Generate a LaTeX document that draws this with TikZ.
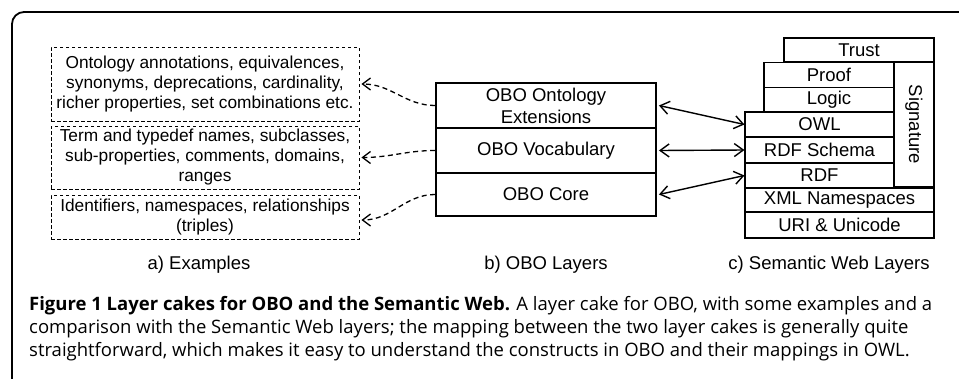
\documentclass[tikz,border=0pt]{standalone}
\usepackage{fontspec}
\setmainfont{Liberation Sans}
\newfontfamily\capfont{Open Sans}
\usetikzlibrary{arrows.meta}
\tikzset{
  ex/.style={draw, dashed, dash pattern=on 3.5pt off 2.5pt, line width=0.9pt, minimum width=308pt, inner sep=0pt, align=center, font=\fontsize{17.3}{20}\selectfont},
  obo/.style={draw, line width=1.9pt, minimum width=220pt, inner sep=0pt, align=center, font=\fontsize{18.5}{22}\selectfont},
  sw/.style={draw, line width=1.1pt, inner sep=0pt, align=center, font=\fontsize{18.5}{19}\selectfont},
  lab/.style={font=\fontsize{18.5}{19}\selectfont},
  dconn/.style={dashed, dash pattern=on 5pt off 3.5pt, line width=1.3pt, -{Straight Barb[length=8pt,width=12pt,line width=1.3pt]}},
  bconn/.style={line width=1.4pt, {Straight Barb[length=9pt,width=13pt]}-{Straight Barb[length=9pt,width=13pt]}},
  captxt/.style={anchor=base west, inner sep=0pt, font=\capfont\fontsize{18.5}{20}\selectfont}
}
\begin{document}
\begin{tikzpicture}[x=1pt,y=-1pt]
\useasboundingbox (0,0) rectangle (959,378);
\begin{scope}
\clip (0,0) rectangle (959,378);
\draw[line width=1.8pt, rounded corners=12pt] (12,420) -- (12,12) -- (1000,12);
\end{scope}
% examples
\node[ex, minimum height=74pt] (e1) at (205,84) {Ontology annotations, equivalences,\\synonyms, deprecations, cardinality,\\richer properties, set combinations etc.};
\node[ex, minimum height=63pt] (e2) at (205,157.5) {Term and typedef names, subclasses,\\sub-properties, comments, domains,\\ranges};
\node[ex, minimum height=44pt] (e3) at (205,217) {Identifiers, namespaces, relationships\\(triples)};
% OBO layers
\node[obo, minimum height=45pt] (o1) at (546,105.5) {OBO Ontology\\Extensions};
\node[obo, minimum height=45pt] (o2) at (546,150.5) {OBO Vocabulary};
\node[obo, minimum height=43pt] (o3) at (546,194.5) {OBO Core};
% semantic web layers
\node[sw, minimum width=150pt, minimum height=24pt] (trust) at (859,50) {Trust};
\node[sw, minimum width=130pt, minimum height=25pt] (proof) at (829,75) {Proof};
\node[sw, minimum width=130pt, minimum height=25pt] (logic) at (829,100) {Logic};
\node[sw, minimum width=149pt, minimum height=25pt] (owl) at (819.5,124.5) {OWL};
\node[sw, minimum width=149pt, minimum height=26pt] (rdfs) at (819.5,150) {RDF Schema};
\node[sw, minimum width=149pt, minimum height=25pt] (rdf) at (819.5,175.5) {RDF};
\node[sw, minimum width=40pt, minimum height=125pt] (sig) at (914,124.5) {};
\node[rotate=-90, lab] at (sig.center) {Signature};
\node[sw, minimum width=189pt, minimum height=24pt] (xml) at (839.5,200) {XML Namespaces};
\node[sw, minimum width=189pt, minimum height=26pt] (uri) at (839.5,225) {URI \& Unicode};
% labels
\node[lab] (la) at (199,265) {a) Examples};
\node[lab] (lb) at (546,265) {b) OBO Layers};
\node[lab] (lc) at (829,265) {c) Semantic Web Layers};
% connectors
\draw[dconn] (o1.west) to[out=180,in=0] ([xshift=2pt]e1.east);
\draw[dconn] (o2.west) to[out=180,in=0] ([xshift=2pt]e2.east);
\draw[dconn] (o3.west) to[out=180,in=0] ([xshift=2pt,yshift=-3pt]e3.east);
\draw[bconn] ([xshift=2pt]o1.east) -- (owl.west);
\draw[bconn] ([xshift=2pt]o2.east) -- (rdfs.west);
\draw[bconn] ([xshift=2pt]o3.east) -- (rdf.west);
% caption
\node[captxt] (c1) at (29,310) {\textbf{Figure 1 Layer cakes for OBO and the Semantic Web.} A layer cake for OBO, with some examples and a};
\node[captxt] (c2) at (29,333) {comparison with the Semantic Web layers; the mapping between the two layer cakes is generally quite};
\node[captxt] (c3) at (29,356) {straightforward, which makes it easy to understand the constructs in OBO and their mappings in OWL.};
\end{tikzpicture}
\end{document}
